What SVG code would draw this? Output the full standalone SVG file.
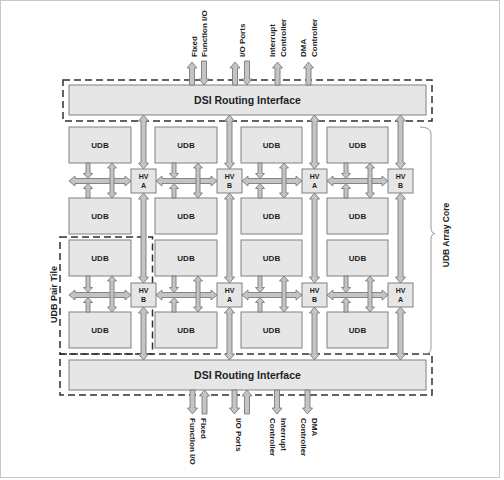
<svg xmlns="http://www.w3.org/2000/svg" width="504" height="480" viewBox="0 0 504 480">
<style>
.frame{fill:#ffffff;stroke:#c8c8c8;stroke-width:1}
.dash{fill:none;stroke:#303030;stroke-width:1.5;stroke-dasharray:7 4}
.box{fill:#e6e6e6;stroke:#808080;stroke-width:1}
.arr{fill:#c4c4c4;stroke:#7a7a7a;stroke-width:0.9;stroke-linejoin:miter}
.brace{fill:none;stroke:#9a9a9a;stroke-width:1}
text{font-family:"Liberation Sans",Arial,sans-serif;font-weight:bold;fill:#1e1e1e}
.dsi{font-size:10.5px;text-anchor:middle}
.udb{font-size:8px;text-anchor:middle}
.hv{font-size:7px;text-anchor:middle}
.ext{font-size:8px}
.side{font-size:8.5px;text-anchor:middle}
</style>
<rect class="frame" x="0.5" y="0.5" width="499" height="477"/>

<g id="groups">
<rect class="dash" x="63" y="80" width="369" height="41"/>
<rect class="dash" x="60" y="354" width="372" height="41"/>
<rect class="dash" x="60" y="237" width="92.5" height="117"/>
</g>

<g id="dsi-top"><rect class="box" x="69" y="85" width="357" height="30"/><text class="dsi" x="247.5" y="103.7">DSI Routing Interface</text></g>
<g id="dsi-bottom"><rect class="box" x="69" y="360" width="357" height="30"/><text class="dsi" x="247.5" y="378.7">DSI Routing Interface</text></g>

<g id="udb-1-1"><rect class="box" x="69" y="127" width="62" height="36"/><text class="udb" x="100" y="148">UDB</text></g>
<g id="udb-1-2"><rect class="box" x="155" y="127" width="62" height="36"/><text class="udb" x="186" y="148">UDB</text></g>
<g id="udb-1-3"><rect class="box" x="241" y="127" width="61" height="36"/><text class="udb" x="271.5" y="148">UDB</text></g>
<g id="udb-1-4"><rect class="box" x="327" y="127" width="61" height="36"/><text class="udb" x="357.5" y="148">UDB</text></g>
<g id="udb-2-1"><rect class="box" x="69" y="198" width="62" height="36"/><text class="udb" x="100" y="219">UDB</text></g>
<g id="udb-2-2"><rect class="box" x="155" y="198" width="62" height="36"/><text class="udb" x="186" y="219">UDB</text></g>
<g id="udb-2-3"><rect class="box" x="241" y="198" width="61" height="36"/><text class="udb" x="271.5" y="219">UDB</text></g>
<g id="udb-2-4"><rect class="box" x="327" y="198" width="61" height="36"/><text class="udb" x="357.5" y="219">UDB</text></g>
<g id="udb-3-1"><rect class="box" x="69" y="240" width="62" height="36"/><text class="udb" x="100" y="261">UDB</text></g>
<g id="udb-3-2"><rect class="box" x="155" y="240" width="62" height="36"/><text class="udb" x="186" y="261">UDB</text></g>
<g id="udb-3-3"><rect class="box" x="241" y="240" width="61" height="36"/><text class="udb" x="271.5" y="261">UDB</text></g>
<g id="udb-3-4"><rect class="box" x="327" y="240" width="61" height="36"/><text class="udb" x="357.5" y="261">UDB</text></g>
<g id="udb-4-1"><rect class="box" x="69" y="312" width="62" height="36"/><text class="udb" x="100" y="333">UDB</text></g>
<g id="udb-4-2"><rect class="box" x="155" y="312" width="62" height="36"/><text class="udb" x="186" y="333">UDB</text></g>
<g id="udb-4-3"><rect class="box" x="241" y="312" width="61" height="36"/><text class="udb" x="271.5" y="333">UDB</text></g>
<g id="udb-4-4"><rect class="box" x="327" y="312" width="61" height="36"/><text class="udb" x="357.5" y="333">UDB</text></g>

<g id="connectors">
<path class="arr" d="M143.5,115 l5,6 h-2.5 V163 h2.5 l-5,6 l-5,-6 h2.5 V121 h-2.5 z"/>
<path class="arr" d="M143.5,193 l5,6 h-2.5 V277 h2.5 l-5,6 l-5,-6 h2.5 V199 h-2.5 z"/>
<path class="arr" d="M143.5,307 l5,6 h-2.5 V354 h2.5 l-5,6 l-5,-6 h2.5 V313 h-2.5 z"/>
<path class="arr" d="M229.5,115 l5,6 h-2.5 V163 h2.5 l-5,6 l-5,-6 h2.5 V121 h-2.5 z"/>
<path class="arr" d="M229.5,193 l5,6 h-2.5 V277 h2.5 l-5,6 l-5,-6 h2.5 V199 h-2.5 z"/>
<path class="arr" d="M229.5,307 l5,6 h-2.5 V354 h2.5 l-5,6 l-5,-6 h2.5 V313 h-2.5 z"/>
<path class="arr" d="M314.5,115 l5,6 h-2.5 V163 h2.5 l-5,6 l-5,-6 h2.5 V121 h-2.5 z"/>
<path class="arr" d="M314.5,193 l5,6 h-2.5 V277 h2.5 l-5,6 l-5,-6 h2.5 V199 h-2.5 z"/>
<path class="arr" d="M314.5,307 l5,6 h-2.5 V354 h2.5 l-5,6 l-5,-6 h2.5 V313 h-2.5 z"/>
<path class="arr" d="M400.5,115 l5,6 h-2.5 V163 h2.5 l-5,6 l-5,-6 h2.5 V121 h-2.5 z"/>
<path class="arr" d="M400.5,193 l5,6 h-2.5 V277 h2.5 l-5,6 l-5,-6 h2.5 V199 h-2.5 z"/>
<path class="arr" d="M400.5,307 l5,6 h-2.5 V354 h2.5 l-5,6 l-5,-6 h2.5 V313 h-2.5 z"/>

<path class="arr" d="M69,181 l6,-5 v2.5 H125 v-2.5 l6,5 l-6,5 v-2.5 H75 v2.5 z"/>
<path class="arr" d="M156,181 l6,-5 v2.5 H211 v-2.5 l6,5 l-6,5 v-2.5 H162 v2.5 z"/>
<path class="arr" d="M242,181 l6,-5 v2.5 H296 v-2.5 l6,5 l-6,5 v-2.5 H248 v2.5 z"/>
<path class="arr" d="M327,181 l6,-5 v2.5 H382 v-2.5 l6,5 l-6,5 v-2.5 H333 v2.5 z"/>
<path class="arr" d="M69,295 l6,-5 v2.5 H125 v-2.5 l6,5 l-6,5 v-2.5 H75 v2.5 z"/>
<path class="arr" d="M156,295 l6,-5 v2.5 H211 v-2.5 l6,5 l-6,5 v-2.5 H162 v2.5 z"/>
<path class="arr" d="M242,295 l6,-5 v2.5 H296 v-2.5 l6,5 l-6,5 v-2.5 H248 v2.5 z"/>
<path class="arr" d="M327,295 l6,-5 v2.5 H382 v-2.5 l6,5 l-6,5 v-2.5 H333 v2.5 z"/>

<path class="arr" d="M86,163 h4 V173.5 h2.5 l-4.5,5 l-4.5,-5 h2.5 z"/>
<path class="arr" d="M86,198 h4 V188.5 h2.5 l-4.5,-5 l-4.5,5 h2.5 z"/>
<path class="arr" d="M112,163 l4.5,5 h-2.5 V193 h2.5 l-4.5,5 l-4.5,-5 h2.5 V168 h-2.5 z"/>
<path class="arr" d="M172,163 h4 V173.5 h2.5 l-4.5,5 l-4.5,-5 h2.5 z"/>
<path class="arr" d="M172,198 h4 V188.5 h2.5 l-4.5,-5 l-4.5,5 h2.5 z"/>
<path class="arr" d="M198,163 l4.5,5 h-2.5 V193 h2.5 l-4.5,5 l-4.5,-5 h2.5 V168 h-2.5 z"/>
<path class="arr" d="M258,163 h4 V173.5 h2.5 l-4.5,5 l-4.5,-5 h2.5 z"/>
<path class="arr" d="M258,198 h4 V188.5 h2.5 l-4.5,-5 l-4.5,5 h2.5 z"/>
<path class="arr" d="M284,163 l4.5,5 h-2.5 V193 h2.5 l-4.5,5 l-4.5,-5 h2.5 V168 h-2.5 z"/>
<path class="arr" d="M344,163 h4 V173.5 h2.5 l-4.5,5 l-4.5,-5 h2.5 z"/>
<path class="arr" d="M344,198 h4 V188.5 h2.5 l-4.5,-5 l-4.5,5 h2.5 z"/>
<path class="arr" d="M370,163 l4.5,5 h-2.5 V193 h2.5 l-4.5,5 l-4.5,-5 h2.5 V168 h-2.5 z"/>

<path class="arr" d="M86,276 h4 V287.5 h2.5 l-4.5,5 l-4.5,-5 h2.5 z"/>
<path class="arr" d="M86,312 h4 V302.5 h2.5 l-4.5,-5 l-4.5,5 h2.5 z"/>
<path class="arr" d="M112,276 l4.5,5 h-2.5 V307 h2.5 l-4.5,5 l-4.5,-5 h2.5 V281 h-2.5 z"/>
<path class="arr" d="M172,276 h4 V287.5 h2.5 l-4.5,5 l-4.5,-5 h2.5 z"/>
<path class="arr" d="M172,312 h4 V302.5 h2.5 l-4.5,-5 l-4.5,5 h2.5 z"/>
<path class="arr" d="M198,276 l4.5,5 h-2.5 V307 h2.5 l-4.5,5 l-4.5,-5 h2.5 V281 h-2.5 z"/>
<path class="arr" d="M258,276 h4 V287.5 h2.5 l-4.5,5 l-4.5,-5 h2.5 z"/>
<path class="arr" d="M258,312 h4 V302.5 h2.5 l-4.5,-5 l-4.5,5 h2.5 z"/>
<path class="arr" d="M284,276 l4.5,5 h-2.5 V307 h2.5 l-4.5,5 l-4.5,-5 h2.5 V281 h-2.5 z"/>
<path class="arr" d="M344,276 h4 V287.5 h2.5 l-4.5,5 l-4.5,-5 h2.5 z"/>
<path class="arr" d="M344,312 h4 V302.5 h2.5 l-4.5,-5 l-4.5,5 h2.5 z"/>
<path class="arr" d="M370,276 l4.5,5 h-2.5 V307 h2.5 l-4.5,5 l-4.5,-5 h2.5 V281 h-2.5 z"/>

<path class="arr" d="M189.5,85 h5 V68 h2.5 l-5,-6 l-5,6 h2.5 z"/>
<path class="arr" d="M201.5,61 h5 V79 h2.5 l-5,6 l-5,-6 h2.5 z"/>
<path class="arr" d="M232.5,85 h5 V68 h2.5 l-5,-6 l-5,6 h2.5 z"/>
<path class="arr" d="M244.5,61 h5 V79 h2.5 l-5,6 l-5,-6 h2.5 z"/>
<path class="arr" d="M275,85 h5 V68 h2.5 l-5,-6 l-5,6 h2.5 z"/>
<path class="arr" d="M306,85 h5 V68 h2.5 l-5,-6 l-5,6 h2.5 z"/>

<path class="arr" d="M190,390 h5 V408 h2.5 l-5,6 l-5,-6 h2.5 z"/>
<path class="arr" d="M202,414 h5 V396 h2.5 l-5,-6 l-5,6 h2.5 z"/>
<path class="arr" d="M232,390 h5 V408 h2.5 l-5,6 l-5,-6 h2.5 z"/>
<path class="arr" d="M244.5,414 h5 V396 h2.5 l-5,-6 l-5,6 h2.5 z"/>
<path class="arr" d="M274.5,390 h5 V408 h2.5 l-5,6 l-5,-6 h2.5 z"/>
<path class="arr" d="M305,390 h5 V408 h2.5 l-5,6 l-5,-6 h2.5 z"/>
</g>

<g id="hv-1-1"><rect class="box" x="131" y="169" width="25" height="24"/><text class="hv" x="143.5" y="178.5">HV</text><text class="hv" x="143.5" y="187.5">A</text></g>
<g id="hv-1-2"><rect class="box" x="217" y="169" width="25" height="24"/><text class="hv" x="229.5" y="178.5">HV</text><text class="hv" x="229.5" y="187.5">B</text></g>
<g id="hv-1-3"><rect class="box" x="302" y="169" width="25" height="24"/><text class="hv" x="314.5" y="178.5">HV</text><text class="hv" x="314.5" y="187.5">A</text></g>
<g id="hv-1-4"><rect class="box" x="388" y="169" width="25" height="24"/><text class="hv" x="400.5" y="178.5">HV</text><text class="hv" x="400.5" y="187.5">B</text></g>
<g id="hv-2-1"><rect class="box" x="131" y="283" width="25" height="24"/><text class="hv" x="143.5" y="292.5">HV</text><text class="hv" x="143.5" y="301.5">B</text></g>
<g id="hv-2-2"><rect class="box" x="217" y="283" width="25" height="24"/><text class="hv" x="229.5" y="292.5">HV</text><text class="hv" x="229.5" y="301.5">A</text></g>
<g id="hv-2-3"><rect class="box" x="302" y="283" width="25" height="24"/><text class="hv" x="314.5" y="292.5">HV</text><text class="hv" x="314.5" y="301.5">B</text></g>
<g id="hv-2-4"><rect class="box" x="388" y="283" width="25" height="24"/><text class="hv" x="400.5" y="292.5">HV</text><text class="hv" x="400.5" y="301.5">A</text></g>

<g id="array-core">
<path class="brace" d="M420,127 Q431,127 431,134 V228 Q431,233 435,233.5 Q431,234 431,239 V348 Q431,354 424,354"/>
<text class="side" transform="translate(448.5,235) rotate(-90)">UDB Array Core</text>
</g>
<g id="pair-tile-label"><text class="side" style="font-size:9px" transform="translate(56.7,294.5) rotate(-90)">UDB Pair Tile</text></g>

<g id="top-labels">
<text class="ext" transform="translate(196.5,57) rotate(-90)">Fixed</text>
<text class="ext" transform="translate(207,57) rotate(-90)">Function I/O</text>
<text class="ext" transform="translate(245,57) rotate(-90)">I/O Ports</text>
<text class="ext" transform="translate(275,57) rotate(-90)">Interrupt</text>
<text class="ext" transform="translate(286,57) rotate(-90)">Controller</text>
<text class="ext" transform="translate(306,57) rotate(-90)">DMA</text>
<text class="ext" transform="translate(317,57) rotate(-90)">Controller</text>
</g>
<g id="bottom-labels">
<text class="ext" transform="translate(200.5,418) rotate(90)">Fixed</text>
<text class="ext" transform="translate(189.5,418) rotate(90)">Function I/O</text>
<text class="ext" transform="translate(235.5,418) rotate(90)">I/O Ports</text>
<text class="ext" transform="translate(281,418) rotate(90)">Interrupt</text>
<text class="ext" transform="translate(270,418) rotate(90)">Controller</text>
<text class="ext" transform="translate(311.5,418) rotate(90)">DMA</text>
<text class="ext" transform="translate(301,418) rotate(90)">Controller</text>
</g>
</svg>
